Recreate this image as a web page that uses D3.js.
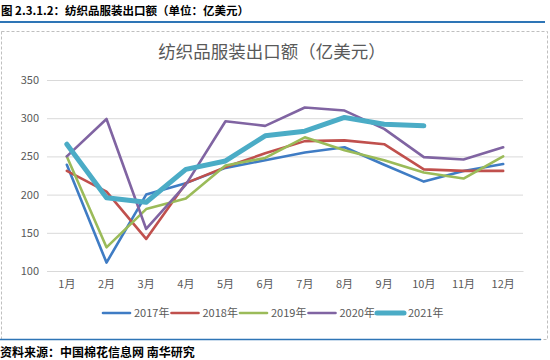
<!DOCTYPE html>
<html><head><meta charset="utf-8">
<script src="https://cdn.jsdelivr.net/npm/d3@7"></script>
<style>
body{margin:0;background:#fff;}
svg{display:block;font-family:"Noto Sans CJK SC","Noto Sans",sans-serif;}
</style></head>
<body><svg id="c" width="550" height="360"></svg>
<script>
const months = ["1月","2月","3月","4月","5月","6月","7月","8月","9月","10月","11月","12月"];
const yTicks = [100,150,200,250,300,350];
const seriesNames = ["2017年","2018年","2019年","2020年","2021年"];
const v2017 = [239,111,200,215,235,245,255,262,239,217,231,240];
const v2018 = [231,204,142,215,236,254,270,271,266,233,231,231];
const v2019 = [250,131,181,195,238,248,275,258,245,229,221,250];
const v2020 = [250,299,155,213,296,290,314,310,286,249,246,262];
const v2021 = [266,196,190,233,244,277,283,301,292,290];
const colors = ["#3f7cc4","#c0504d","#9bbb59","#8064a2","#4bacc6"];
const widths = [2.6,2.6,2.6,2.6,5];

const svg = d3.select("#c");
// header
svg.append("text").attr("x",1).attr("y",15).attr("font-size",11.5).attr("font-weight","bold").attr("fill","#000")
  .text("图 2.3.1.2：纺织品服装出口额（单位：亿美元）");
svg.append("line").attr("x1",0).attr("x2",545).attr("y1",22).attr("y2",22).attr("stroke","#2e75b6").attr("stroke-width",2);
// chart frame
svg.append("rect").attr("x",1.5).attr("y",31.5).attr("width",546).attr("height",308)
  .attr("fill","none").attr("stroke","#bfbfbf").attr("stroke-dasharray","3,2");
svg.append("line").attr("x1",0).attr("x2",541).attr("y1",339.5).attr("y2",339.5).attr("stroke","#2e75b6").attr("stroke-width",1.5);
// footer
svg.append("text").attr("x",0).attr("y",357).attr("font-size",12).attr("font-weight","bold").attr("fill","#000")
  .text("资料来源：中国棉花信息网 南华研究");
// title
svg.append("text").attr("x",272).attr("y",58).attr("text-anchor","middle").attr("font-size",17.5).attr("fill","#595959")
  .text("纺织品服装出口额（亿美元）");

const x = d3.scaleBand().domain(months).range([47,523]);
const y = d3.scaleLinear().domain([100,350]).range([271,80]);

const yAxis = svg.append("g").attr("transform","translate(47,0)")
  .call(d3.axisLeft(y).tickValues(yTicks).tickSize(-476).tickPadding(8));
yAxis.select(".domain").remove();
yAxis.selectAll("line").attr("stroke","#d9d9d9").attr("stroke-width",1);
yAxis.selectAll("text").attr("fill","#595959").attr("font-size",11).attr("font-family","\"Noto Sans CJK SC\",sans-serif");

const xAxis = svg.append("g").attr("transform","translate(0,271)")
  .call(d3.axisBottom(x).tickSize(0).tickPadding(9));
xAxis.select(".domain").attr("stroke","#d9d9d9");
xAxis.selectAll("text").attr("fill","#595959").attr("font-size",11).attr("font-family","\"Noto Sans CJK SC\",sans-serif");

const all = [v2017,v2018,v2019,v2020,v2021];
const line = d3.line().x((d,i)=>x(months[i])+x.bandwidth()/2).y(d=>y(d));
all.forEach((vals,k)=>{
  svg.append("path").datum(vals).attr("d",line).attr("fill","none")
    .attr("stroke",colors[k]).attr("stroke-width",widths[k]).attr("stroke-linejoin","round").attr("stroke-linecap","round");
});

// legend
const lg = svg.append("g");
seriesNames.forEach((n,k)=>{
  const x0 = 103 + k*68.5;
  lg.append("line").attr("x1",x0).attr("x2",x0+27).attr("y1",313).attr("y2",313)
    .attr("stroke",colors[k]).attr("stroke-width",widths[k]).attr("stroke-linecap","round");
  lg.append("text").attr("x",x0+31).attr("y",317).attr("font-size",11).attr("fill","#595959").text(n);
});
</script></body></html>
